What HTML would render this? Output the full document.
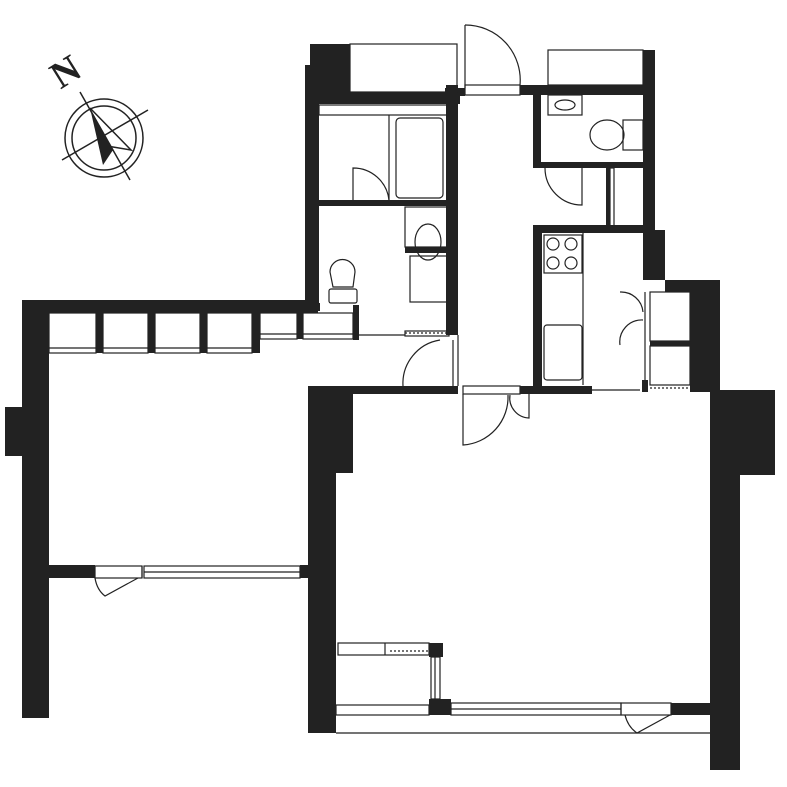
<!DOCTYPE html>
<html><head><meta charset="utf-8"><style>html,body{margin:0;padding:0;background:#fff}svg{display:block}</style></head>
<body>
<svg width="787" height="787" viewBox="0 0 787 787" xmlns="http://www.w3.org/2000/svg">
<g fill="#222" stroke="none">
<rect x="22" y="300" width="296" height="13"/>
<rect x="22" y="300" width="27" height="418"/>
<rect x="5" y="407" width="20" height="49"/>
<rect x="48" y="565" width="47" height="13"/>
<rect x="300" y="565" width="8" height="13"/>
<rect x="96" y="313" width="7" height="40"/>
<rect x="148" y="313" width="7" height="40"/>
<rect x="200" y="313" width="7" height="40"/>
<rect x="252" y="313" width="8" height="40"/>
<rect x="297" y="313" width="6" height="26"/>
<rect x="353" y="305" width="6" height="35"/>
<rect x="310" y="44" width="40" height="48"/>
<rect x="305" y="65" width="14" height="240"/>
<rect x="310" y="92" width="150" height="12"/>
<rect x="318" y="200" width="130" height="6"/>
<rect x="405" y="247" width="45" height="6"/>
<rect x="302" y="303" width="18" height="8"/>
<rect x="446" y="85" width="12" height="250"/>
<rect x="445" y="88" width="20" height="8"/>
<rect x="520" y="85" width="135" height="10"/>
<rect x="643" y="50" width="12" height="182"/>
<rect x="533" y="95" width="8" height="73"/>
<rect x="533" y="162" width="112" height="6"/>
<rect x="606" y="168" width="4" height="62"/>
<rect x="533" y="225" width="112" height="8"/>
<rect x="533" y="225" width="9" height="168"/>
<rect x="643" y="230" width="22" height="50"/>
<rect x="665" y="280" width="25" height="12"/>
<rect x="690" y="280" width="30" height="112"/>
<rect x="650" y="341" width="40" height="5"/>
<rect x="642" y="380" width="6" height="12"/>
<rect x="308" y="386" width="150" height="8"/>
<rect x="520" y="386" width="72" height="8"/>
<rect x="308" y="388" width="45" height="85"/>
<rect x="308" y="388" width="28" height="345"/>
<rect x="710" y="390" width="65" height="85"/>
<rect x="710" y="390" width="30" height="380"/>
<rect x="429" y="643" width="14" height="14"/>
<rect x="429" y="699" width="22" height="16"/>
<rect x="671" y="703" width="40" height="12"/>
</g>
<g fill="none" stroke="#222" stroke-width="1.2">
<rect x="49" y="313" width="47" height="40"/><rect x="103" y="313" width="45" height="40"/>
<rect x="155" y="313" width="45" height="40"/><rect x="207" y="313" width="45" height="40"/>
<rect x="260" y="313" width="37" height="26"/><rect x="303" y="313" width="50" height="26"/>
<line x1="49" y1="348" x2="252" y2="348"/><line x1="260" y1="334" x2="353" y2="334"/>
<rect x="95" y="566" width="47" height="12"/>
<line x1="142" y1="566" x2="142" y2="578"/>
<rect x="144" y="566" width="156" height="12"/>
<line x1="144" y1="572" x2="300" y2="572"/>
<path d="M95 578 Q97 590 105 596 L138 578"/>
<rect x="350" y="44" width="107" height="48"/>
<rect x="319" y="105" width="128" height="10"/>
<line x1="389" y1="115" x2="389" y2="200"/>
<rect x="396" y="118" width="47" height="80" rx="4"/>
<path d="M353 200 L353 168 A36 36 0 0 1 389 200"/>
<rect x="405" y="207" width="42" height="40"/>
<ellipse cx="428" cy="242" rx="13" ry="18"/>
<rect x="410" y="256" width="37" height="46"/>
<path d="M330 272 A12 12 0 1 1 355 272 L353 287 L333 287 Z"/>
<rect x="329" y="289" width="28" height="14" rx="2"/>
<line x1="359" y1="335" x2="405" y2="335"/>
<rect x="405" y="331" width="44" height="5"/>
<line x1="458" y1="335" x2="458" y2="386"/><line x1="453" y1="340" x2="453" y2="386"/>
<path d="M403 386 A44 44 0 0 1 440 340"/>
<line x1="465" y1="25" x2="465" y2="88"/>
<path d="M465 25 A55 55 0 0 1 520 85"/>
<rect x="465" y="85" width="55" height="10"/>
<rect x="548" y="50" width="95" height="35"/>
<rect x="548" y="95" width="34" height="20"/>
<ellipse cx="565" cy="105" rx="10" ry="5"/>
<ellipse cx="607" cy="135" rx="17" ry="15"/>
<rect x="623" y="120" width="20" height="30"/>
<path d="M545 168 A37 37 0 0 0 582 205 L582 168"/>
<rect x="610" y="168" width="4" height="58"/>
<rect x="544" y="235" width="38" height="38"/>
<circle cx="553" cy="244" r="6"/><circle cx="571" cy="244" r="6"/>
<circle cx="553" cy="263" r="6"/><circle cx="571" cy="263" r="6"/>
<line x1="583" y1="233" x2="583" y2="385"/>
<rect x="544" y="325" width="38" height="55" rx="3"/>
<rect x="650" y="292" width="40" height="49"/><rect x="650" y="346" width="40" height="39"/>
<line x1="645" y1="292" x2="645" y2="385"/>
<path d="M620 292 A22 22 0 0 1 643 312"/>
<path d="M643 320 A22 22 0 0 0 620 345"/>
<line x1="592" y1="390" x2="640" y2="390"/>
<rect x="463" y="386" width="57" height="8"/>
<path d="M463 394 L463 445 A48 48 0 0 0 508 395"/>
<path d="M510 395 A20 20 0 0 0 529 418 L529 394"/>
<rect x="338" y="643" width="91" height="12"/>
<line x1="385" y1="643" x2="385" y2="655"/>
<rect x="431" y="657" width="9" height="42"/>
<line x1="435" y1="657" x2="435" y2="699"/>
<rect x="336" y="705" width="93" height="10"/>
<rect x="451" y="703" width="170" height="12"/>
<line x1="451" y1="709" x2="621" y2="709"/>
<rect x="621" y="703" width="50" height="12"/>
<path d="M625 715 Q628 727 637 733 L670 715"/>
<line x1="336" y1="733" x2="710" y2="733"/>
</g>
<g fill="none" stroke="#222" stroke-width="1.2" stroke-dasharray="2,2">
<line x1="405" y1="333" x2="449" y2="333"/>
<line x1="650" y1="388" x2="690" y2="388"/>
<line x1="390" y1="651" x2="429" y2="651"/>
</g>
<g fill="none" stroke="#222" stroke-width="1.5">
<circle cx="104" cy="138" r="39"/>
<circle cx="104" cy="138" r="32"/>
<line x1="80" y1="92" x2="130" y2="180"/>
<line x1="62" y1="160" x2="148" y2="110"/>
<path d="M90 108 L131 150 L107 146"/>
</g>
<path d="M90 108 L113 150 L103 165 Z" fill="#222"/>
<text x="52" y="84" font-family="Liberation Serif, serif" font-size="38" font-weight="bold" fill="#222" transform="rotate(-32 66 72)">N</text>
</svg>
</body></html>
